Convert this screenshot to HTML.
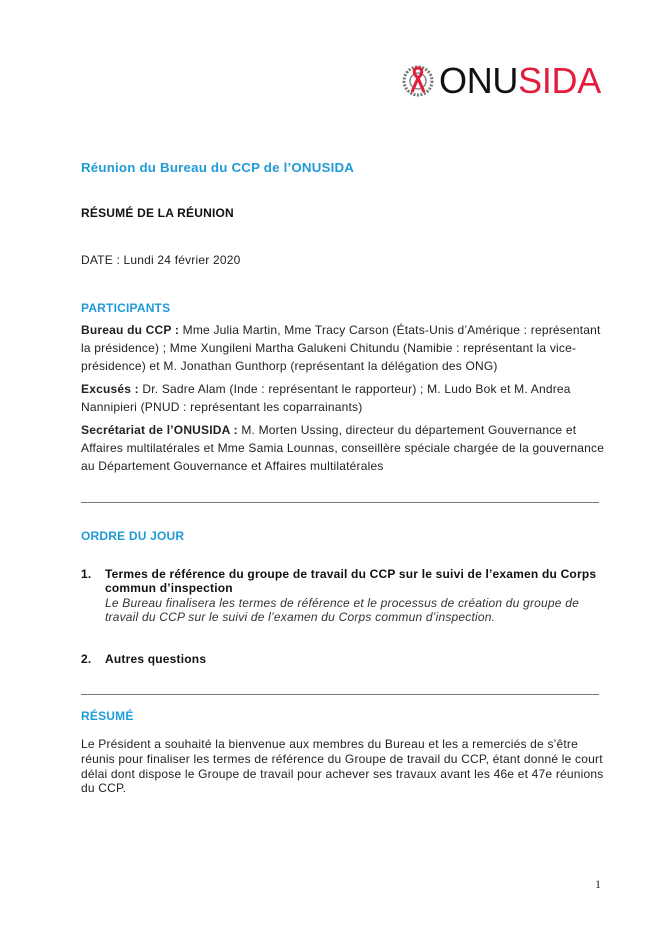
<!DOCTYPE html>
<html><head><meta charset="utf-8"><style>
body{margin:0;background:#fff;}
#p{position:relative;width:670px;height:947px;overflow:hidden;font-family:"Liberation Sans",Arial,sans-serif;font-size:12px;color:#222;}
.l{position:absolute;left:81px;white-space:nowrap;line-height:16px;height:16px;letter-spacing:0.2px;}
.b{color:#1f9bd7;font-weight:bold;}
.hr{position:absolute;left:81px;width:518px;height:1px;background:#777;}
i{font-style:italic;color:#333}
</style></head><body><div id="p">
<svg style="position:absolute;left:401px;top:64px" width="36" height="34" viewBox="0 0 36 34">
<circle cx="17" cy="17" r="14" fill="none" stroke="#777" stroke-width="3" stroke-dasharray="2 1.5"/>
<circle cx="17" cy="17" r="8" fill="none" stroke="#888" stroke-width="1.5"/>
<path d="M17 4 C12 4 12 10 17 14 L11 28 M17 4 C22 4 22 10 17 14 L23 28" fill="none" stroke="#e31d3c" stroke-width="3"/>
</svg>
<div style="position:absolute;left:439px;top:61px;font-size:36px;line-height:40px;letter-spacing:-0.3px;white-space:nowrap;font-family:'Liberation Sans',sans-serif"><span style="color:#111">ONU</span><span style="color:#e31d3c">SIDA</span></div>
<div class="l b" style="top:160px;font-size:13.3px">Réunion du Bureau du CCP de l’ONUSIDA</div>
<div class="l" style="top:205px;font-weight:bold;color:#111">RÉSUMÉ DE LA RÉUNION</div>
<div class="l" style="top:252px">DATE : Lundi 24 février 2020</div>
<div class="l b" style="top:300px">PARTICIPANTS</div>
<div class="l" style="top:322px"><b>Bureau du CCP :</b> Mme Julia Martin, Mme Tracy Carson (États-Unis d’Amérique : représentant</div>
<div class="l" style="top:340px">la présidence) ; Mme Xungileni Martha Galukeni Chitundu (Namibie : représentant la vice-</div>
<div class="l" style="top:358px">présidence) et M. Jonathan Gunthorp (représentant la délégation des ONG)</div>
<div class="l" style="top:381px"><b>Excusés :</b> Dr. Sadre Alam (Inde : représentant le rapporteur) ; M. Ludo Bok et M. Andrea</div>
<div class="l" style="top:399px">Nannipieri (PNUD : représentant les coparrainants)</div>
<div class="l" style="top:422px"><b>Secrétariat de l’ONUSIDA :</b> M. Morten Ussing, directeur du département Gouvernance et</div>
<div class="l" style="top:440px">Affaires multilatérales et Mme Samia Lounnas, conseillère spéciale chargée de la gouvernance</div>
<div class="l" style="top:458px">au Département Gouvernance et Affaires multilatérales</div>
<div class="hr" style="top:502px"></div>
<div class="l b" style="top:528px">ORDRE DU JOUR</div>
<div class="l" style="top:566px;font-weight:bold;color:#111">1.</div>
<div class="l" style="top:566px;left:105px;font-weight:bold;color:#111">Termes de référence du groupe de travail du CCP sur le suivi de l’examen du Corps</div>
<div class="l" style="top:580px;left:105px;font-weight:bold;color:#111">commun d’inspection</div>
<div class="l" style="top:595px;left:105px"><i>Le Bureau finalisera les termes de référence et le processus de création du groupe de</i></div>
<div class="l" style="top:609px;left:105px"><i>travail du CCP sur le suivi de l’examen du Corps commun d’inspection.</i></div>
<div class="l" style="top:651px;font-weight:bold;color:#111">2.</div>
<div class="l" style="top:651px;left:105px;font-weight:bold;color:#111">Autres questions</div>
<div class="hr" style="top:694px"></div>
<div class="l b" style="top:708px">RÉSUMÉ</div>
<div class="l" style="top:737px;line-height:15px">Le Président a souhaité la bienvenue aux membres du Bureau et les a remerciés de s’être</div>
<div class="l" style="top:752px;line-height:15px">réunis pour finaliser les termes de référence du Groupe de travail du CCP, étant donné le court</div>
<div class="l" style="top:767px;line-height:15px">délai dont dispose le Groupe de travail pour achever ses travaux avant les 46e et 47e réunions</div>
<div class="l" style="top:781px;line-height:15px">du CCP.</div>
<div class="l" style="top:876px;left:595px;font-family:'Liberation Serif',serif">1</div>
</div></body></html>
